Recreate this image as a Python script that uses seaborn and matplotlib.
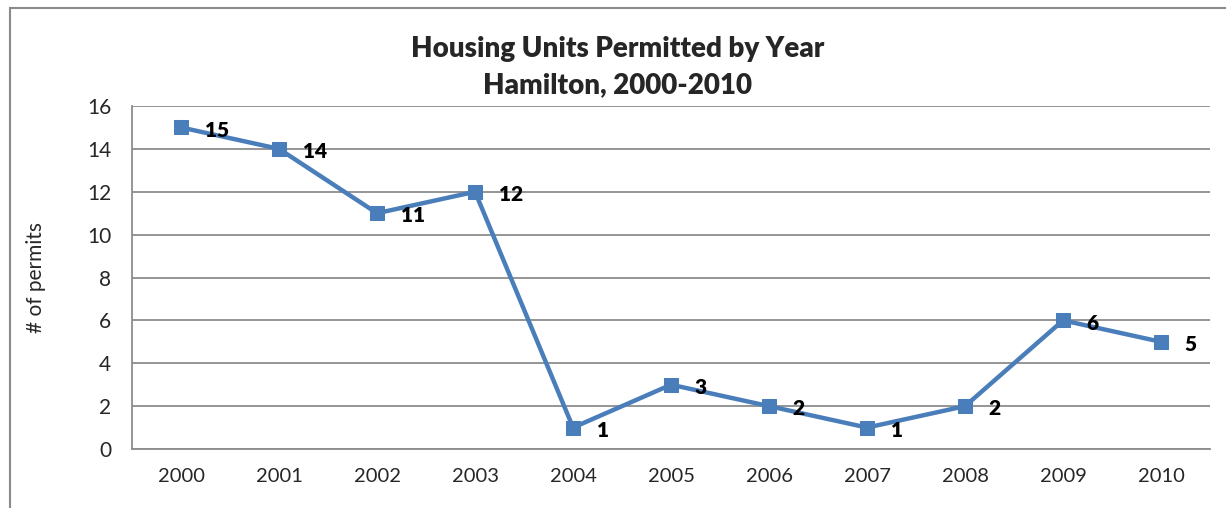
import matplotlib
matplotlib.use("Agg")
import matplotlib.pyplot as plt
import seaborn as sns
import pandas as pd
from matplotlib.patches import Rectangle

# data
years = ["2000", "2001", "2002", "2003", "2004", "2005", "2006", "2007", "2008", "2009", "2010"]
permits = [15, 14, 11, 12, 1, 3, 2, 1, 2, 6, 5]
y_ticks = [0, 2, 4, 6, 8, 10, 12, 14, 16]

df = pd.DataFrame({"year": years, "permits": permits})
df["pos"] = range(len(years))

sns.set_style("white")
plt.rcParams["font.family"] = ["Lato", "DejaVu Sans"]

grid_col = "#8c8c8c"
line_col = "#4a7ebb"

fig = plt.figure(figsize=(12.26, 5.08), dpi=100)
ax = fig.add_axes([0.1077, 0.1161, 0.8793, 0.6752])

# outer chart frame (cut off at right and bottom like the screenshot)
fig.patches.append(Rectangle((10 / 1226, -0.1), 1.2, 1.1 - 8 / 508,
                             transform=fig.transFigure, fill=False,
                             edgecolor="#8a8a8a", linewidth=1.5))

sns.lineplot(data=df, x="pos", y="permits", ax=ax, color=line_col,
             linewidth=3.2, marker="s", markersize=10,
             markeredgecolor=line_col, markerfacecolor=line_col)

for x, v in zip(df["pos"], permits):
    ax.annotate(str(v), (x, v), xytext=(17, -2), textcoords="offset points",
                ha="left", va="center", fontsize=15, fontweight="heavy",
                color="black")

ax.set_xlim(-0.5, len(years) - 0.5)
ax.set_ylim(0, 16)
ax.set_yticks(y_ticks)
ax.set_xticks(df["pos"])
ax.set_xticklabels(years)
ax.set_xticks([i - 0.5 for i in range(len(years) + 1)], minor=True)
ax.tick_params(axis="x", which="major", length=0, pad=14, labelsize=14.5)
ax.tick_params(axis="x", which="minor", length=7, width=1.3, color=grid_col)
ax.tick_params(axis="y", length=7, width=1.3, color=grid_col, labelsize=15, pad=8)
ax.yaxis.grid(True, color=grid_col, linewidth=1.3)
ax.set_axisbelow(True)

for s in ["top", "right"]:
    ax.spines[s].set_visible(False)
for s in ["left", "bottom"]:
    ax.spines[s].set_color(grid_col)
    ax.spines[s].set_linewidth(1.3)

ax.set_xlabel("")
ax.set_ylabel("# of permits", fontsize=15)
ax.yaxis.set_label_coords(-0.08, 0.5)

fig.text(0.504, 0.868, "Housing Units Permitted by Year\nHamilton, 2000-2010",
         ha="center", va="center", fontsize=20, fontweight="heavy",
         linespacing=1.45)

fig.savefig("out.png", dpi=100)
